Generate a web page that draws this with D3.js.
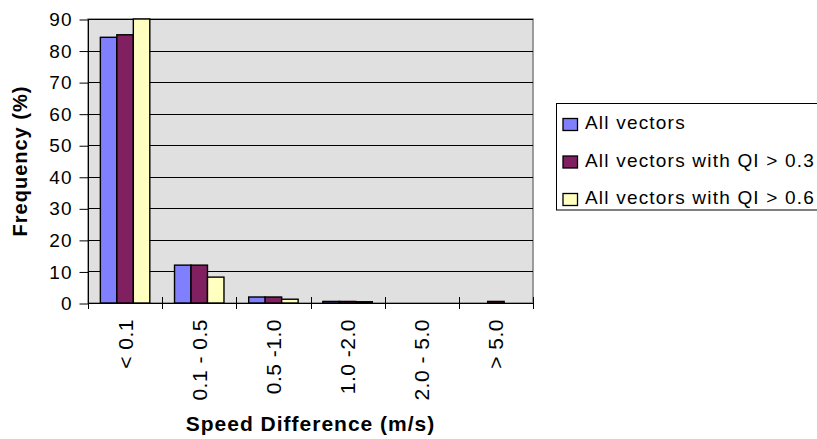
<!DOCTYPE html>
<html>
<head>
<meta charset="utf-8">
<script src="https://cdn.jsdelivr.net/npm/d3@7"></script>
<style>
  html, body { margin: 0; padding: 0; background: #ffffff; }
  svg { display: block; }
  text { font-family: "Liberation Sans", Arial, sans-serif; fill: #000; }
</style>
</head>
<body>
<svg id="chart" width="817" height="439"></svg>
<script>
// ---- data ----
const categories = ["< 0.1", "0.1 - 0.5", "0.5 -1.0", "1.0 -2.0", "2.0 - 5.0", "> 5.0"];
const seriesNames = ["All vectors", "All vectors with QI > 0.3", "All vectors with QI > 0.6"];
const allVectors = [84.2, 12.0, 1.9, 0.5, 0, 0];
const qi03Vectors = [85.0, 12.0, 1.9, 0.5, 0, 0.5];
const qi06Vectors = [90.0, 8.2, 1.2, 0.4, 0, 0];
const yTicks = [0, 10, 20, 30, 40, 50, 60, 70, 80, 90];
const seriesColors = ["#8080ff", "#802060", "#ffffc0"];
const xTitle = "Speed Difference (m/s)";
const yTitle = "Frequency (%)";

const seriesValues = [allVectors, qi03Vectors, qi06Vectors];
const rows = [];
categories.forEach((c, i) => {
  seriesNames.forEach((s, j) => rows.push({ cat: c, series: s, si: j, value: seriesValues[j][i] }));
});

// ---- layout ----
const svg = d3.select("#chart");
const plot = { left: 88, right: 533, top: 19, bottom: 303 };

const x0 = d3.scaleBand().domain(categories).range([plot.left, plot.right]).paddingInner(0).paddingOuter(0);
const x1 = d3.scaleBand().domain(seriesNames).range([0, x0.bandwidth()]).paddingInner(0).paddingOuter(0.75);
const y = d3.scaleLinear().domain([0, 90]).range([plot.bottom, plot.top]);
const color = d3.scaleOrdinal().domain(seriesNames).range(seriesColors);

// plot background
svg.append("rect")
  .attr("x", plot.left).attr("y", plot.top)
  .attr("width", plot.right - plot.left).attr("height", plot.bottom - plot.top)
  .attr("fill", "#e0e0e0").attr("stroke", "#808080").attr("stroke-width", 1.5);

// gridlines
svg.append("g").selectAll("line").data(yTicks.filter(t => t > 0)).join("line")
  .attr("x1", plot.left).attr("x2", plot.right)
  .attr("y1", d => Math.round(y(d)) + 0.5).attr("y2", d => Math.round(y(d)) + 0.5)
  .attr("stroke", "#000").attr("stroke-width", 1);

// bars
svg.append("g").selectAll("rect").data(rows.filter(d => d.value > 0)).join("rect")
  .attr("x", d => x0(d.cat) + x1(d.series))
  .attr("y", d => y(d.value))
  .attr("width", x1.bandwidth())
  .attr("height", d => y(0) - y(d.value))
  .attr("fill", d => color(d.series))
  .attr("stroke", "#000").attr("stroke-width", 1.4);

// y axis
const yAxis = d3.axisLeft(y).tickValues(yTicks).tickSize(9).tickPadding(8).tickFormat(d3.format("d"));
const gy = svg.append("g").attr("transform", `translate(${plot.left + 0.5},0.5)`).call(yAxis);
gy.select(".domain").attr("stroke", "#000").attr("d", `M0,${plot.top}V${plot.bottom}`);
gy.selectAll(".tick line").attr("stroke", "#000");
gy.selectAll(".tick text")
  .attr("font-size", "19px").attr("font-family", "Liberation Sans, Arial, sans-serif")
  .attr("letter-spacing", "1px").attr("dx", "1px").attr("fill", "#000");

// x axis (ticks at category boundaries, crossing the axis)
const boundaries = categories.map(c => x0(c)).concat([plot.right]);
svg.append("line")
  .attr("x1", plot.left).attr("x2", plot.right)
  .attr("y1", plot.bottom + 0.5).attr("y2", plot.bottom + 0.5)
  .attr("stroke", "#000");
svg.append("g").selectAll("line").data(boundaries).join("line")
  .attr("x1", d => Math.round(d) + 0.5).attr("x2", d => Math.round(d) + 0.5)
  .attr("y1", plot.bottom - 6).attr("y2", plot.bottom + 6)
  .attr("stroke", "#000");

// x category labels (rotated)
svg.append("g").selectAll("text").data(categories).join("text")
  .attr("transform", d => `translate(${x0(d) + x0.bandwidth() / 2},319) rotate(-90)`)
  .attr("text-anchor", "end")
  .attr("dy", "0.36em")
  .attr("font-size", "21px").attr("letter-spacing", "0.5px")
  .text(d => d);

// axis titles
svg.append("text")
  .attr("x", (plot.left + plot.right) / 2).attr("y", 431)
  .attr("text-anchor", "middle")
  .attr("font-size", "21px").attr("font-weight", "bold").attr("letter-spacing", "1px")
  .text(xTitle);

svg.append("text")
  .attr("transform", `translate(20,${(plot.top + plot.bottom) / 2}) rotate(-90)`)
  .attr("text-anchor", "middle").attr("dy", "0.36em")
  .attr("font-size", "20px").attr("font-weight", "bold").attr("letter-spacing", "1px")
  .text(yTitle);

// legend
const legend = svg.append("g");
legend.append("rect")
  .attr("x", 556.5).attr("y", 103.5).attr("width", 270).attr("height", 106.5)
  .attr("fill", "#fff").attr("stroke", "#000").attr("stroke-width", 1);
const items = legend.selectAll("g.item").data(seriesNames).join("g")
  .attr("class", "item")
  .attr("transform", (d, i) => `translate(0,${129 + i * 37.5})`);
items.append("rect")
  .attr("x", 563).attr("y", -10.5).attr("width", 14.5).attr("height", 12)
  .attr("fill", d => color(d)).attr("stroke", "#000").attr("stroke-width", 1.3);
items.append("text")
  .attr("x", 585).attr("y", 0)
  .attr("font-size", "19px").attr("letter-spacing", "1.2px")
  .text(d => d);
</script>
</body>
</html>
